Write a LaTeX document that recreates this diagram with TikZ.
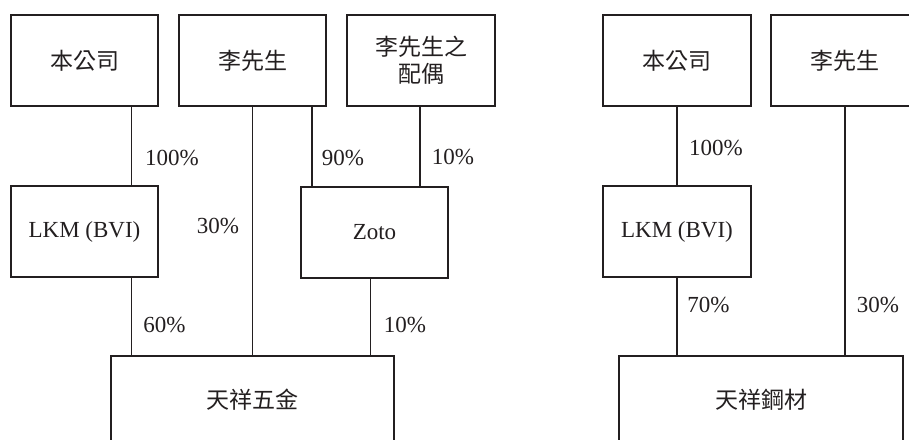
\documentclass[tikz,border=0pt]{standalone}
\usepackage{fontspec}
\setmainfont{Liberation Serif}
\newfontfamily\cjk{Noto Sans CJK TC}
\definecolor{ink}{HTML}{231F20}
\begin{document}
\begin{tikzpicture}[x=1pt,y=-1pt,
  box/.style={draw=ink,line width=1.4pt,rectangle,minimum width=147pt,minimum height=91pt,inner sep=0pt,align=center,text=ink,font=\fontsize{23}{29}\selectfont},
  bigbox/.style={box,minimum width=283pt,minimum height=88pt},
  pct/.style={inner sep=0pt,text=ink,font=\fontsize{23}{28}\selectfont},
  conn/.style={draw=ink,line width=1.4pt}]
\clip (0,0) rectangle (909,439);
\fill[white] (0,0) rectangle (909,439);
% left diagram
\node[box] (a1) at (84.5,60.5) {\cjk 本公司};
\node[box] (a2) at (252.5,60.5) {\cjk 李先生};
\node[box,minimum width=148pt] (a3) at (421,60.5) {\cjk 李先生之\\[-2pt]\cjk 配偶};
\node[box] (b1) at (84.5,231.5) {LKM (BVI)};
\node[box] (b2) at (374.5,232.5) {Zoto};
\node[bigbox] (c) at (252.5,400) {\cjk 天祥五金};
\coordinate (x1) at (131.5,0);
\coordinate (x2) at (312,0);
\coordinate (x3) at (420,0);
\coordinate (x4) at (370.5,0);
\draw[conn] (a1.south -| x1) -- (b1.north -| x1);
\draw[conn] (b1.south -| x1) -- (c.north -| x1);
\draw[conn] (a2.south) -- (c.north);
\draw[conn] (a2.south -| x2) -- (b2.north -| x2);
\draw[conn] (a3.south -| x3) -- (b2.north -| x3);
\draw[conn] (b2.south -| x4) -- (c.north -| x4);
\node[pct] (l1) at (172,158) {100\%};
\node[pct] (l2) at (343,158) {90\%};
\node[pct] (l3) at (453,157) {10\%};
\node[pct] (l4) at (218,226) {30\%};
\node[pct] (l5) at (164.5,325) {60\%};
\node[pct] (l6) at (405,325) {10\%};
% right diagram
\node[box,minimum width=148pt] (d1) at (677,60.5) {\cjk 本公司};
\node[box] (d2) at (844.5,60.5) {\cjk 李先生};
\node[box,minimum width=148pt] (d3) at (677,231.5) {LKM (BVI)};
\node[bigbox,minimum width=284pt] (e) at (761,400) {\cjk 天祥鋼材};
\coordinate (y1) at (677,0);
\coordinate (y2) at (845,0);
\draw[conn] (d1.south) -- (d3.north);
\draw[conn] (d3.south) -- (e.north -| y1);
\draw[conn] (d2.south -| y2) -- (e.north -| y2);
\node[pct] (r1) at (716,148) {100\%};
\node[pct] (r2) at (708.5,305) {70\%};
\node[pct] (r3) at (878,305) {30\%};
\end{tikzpicture}
\end{document}
